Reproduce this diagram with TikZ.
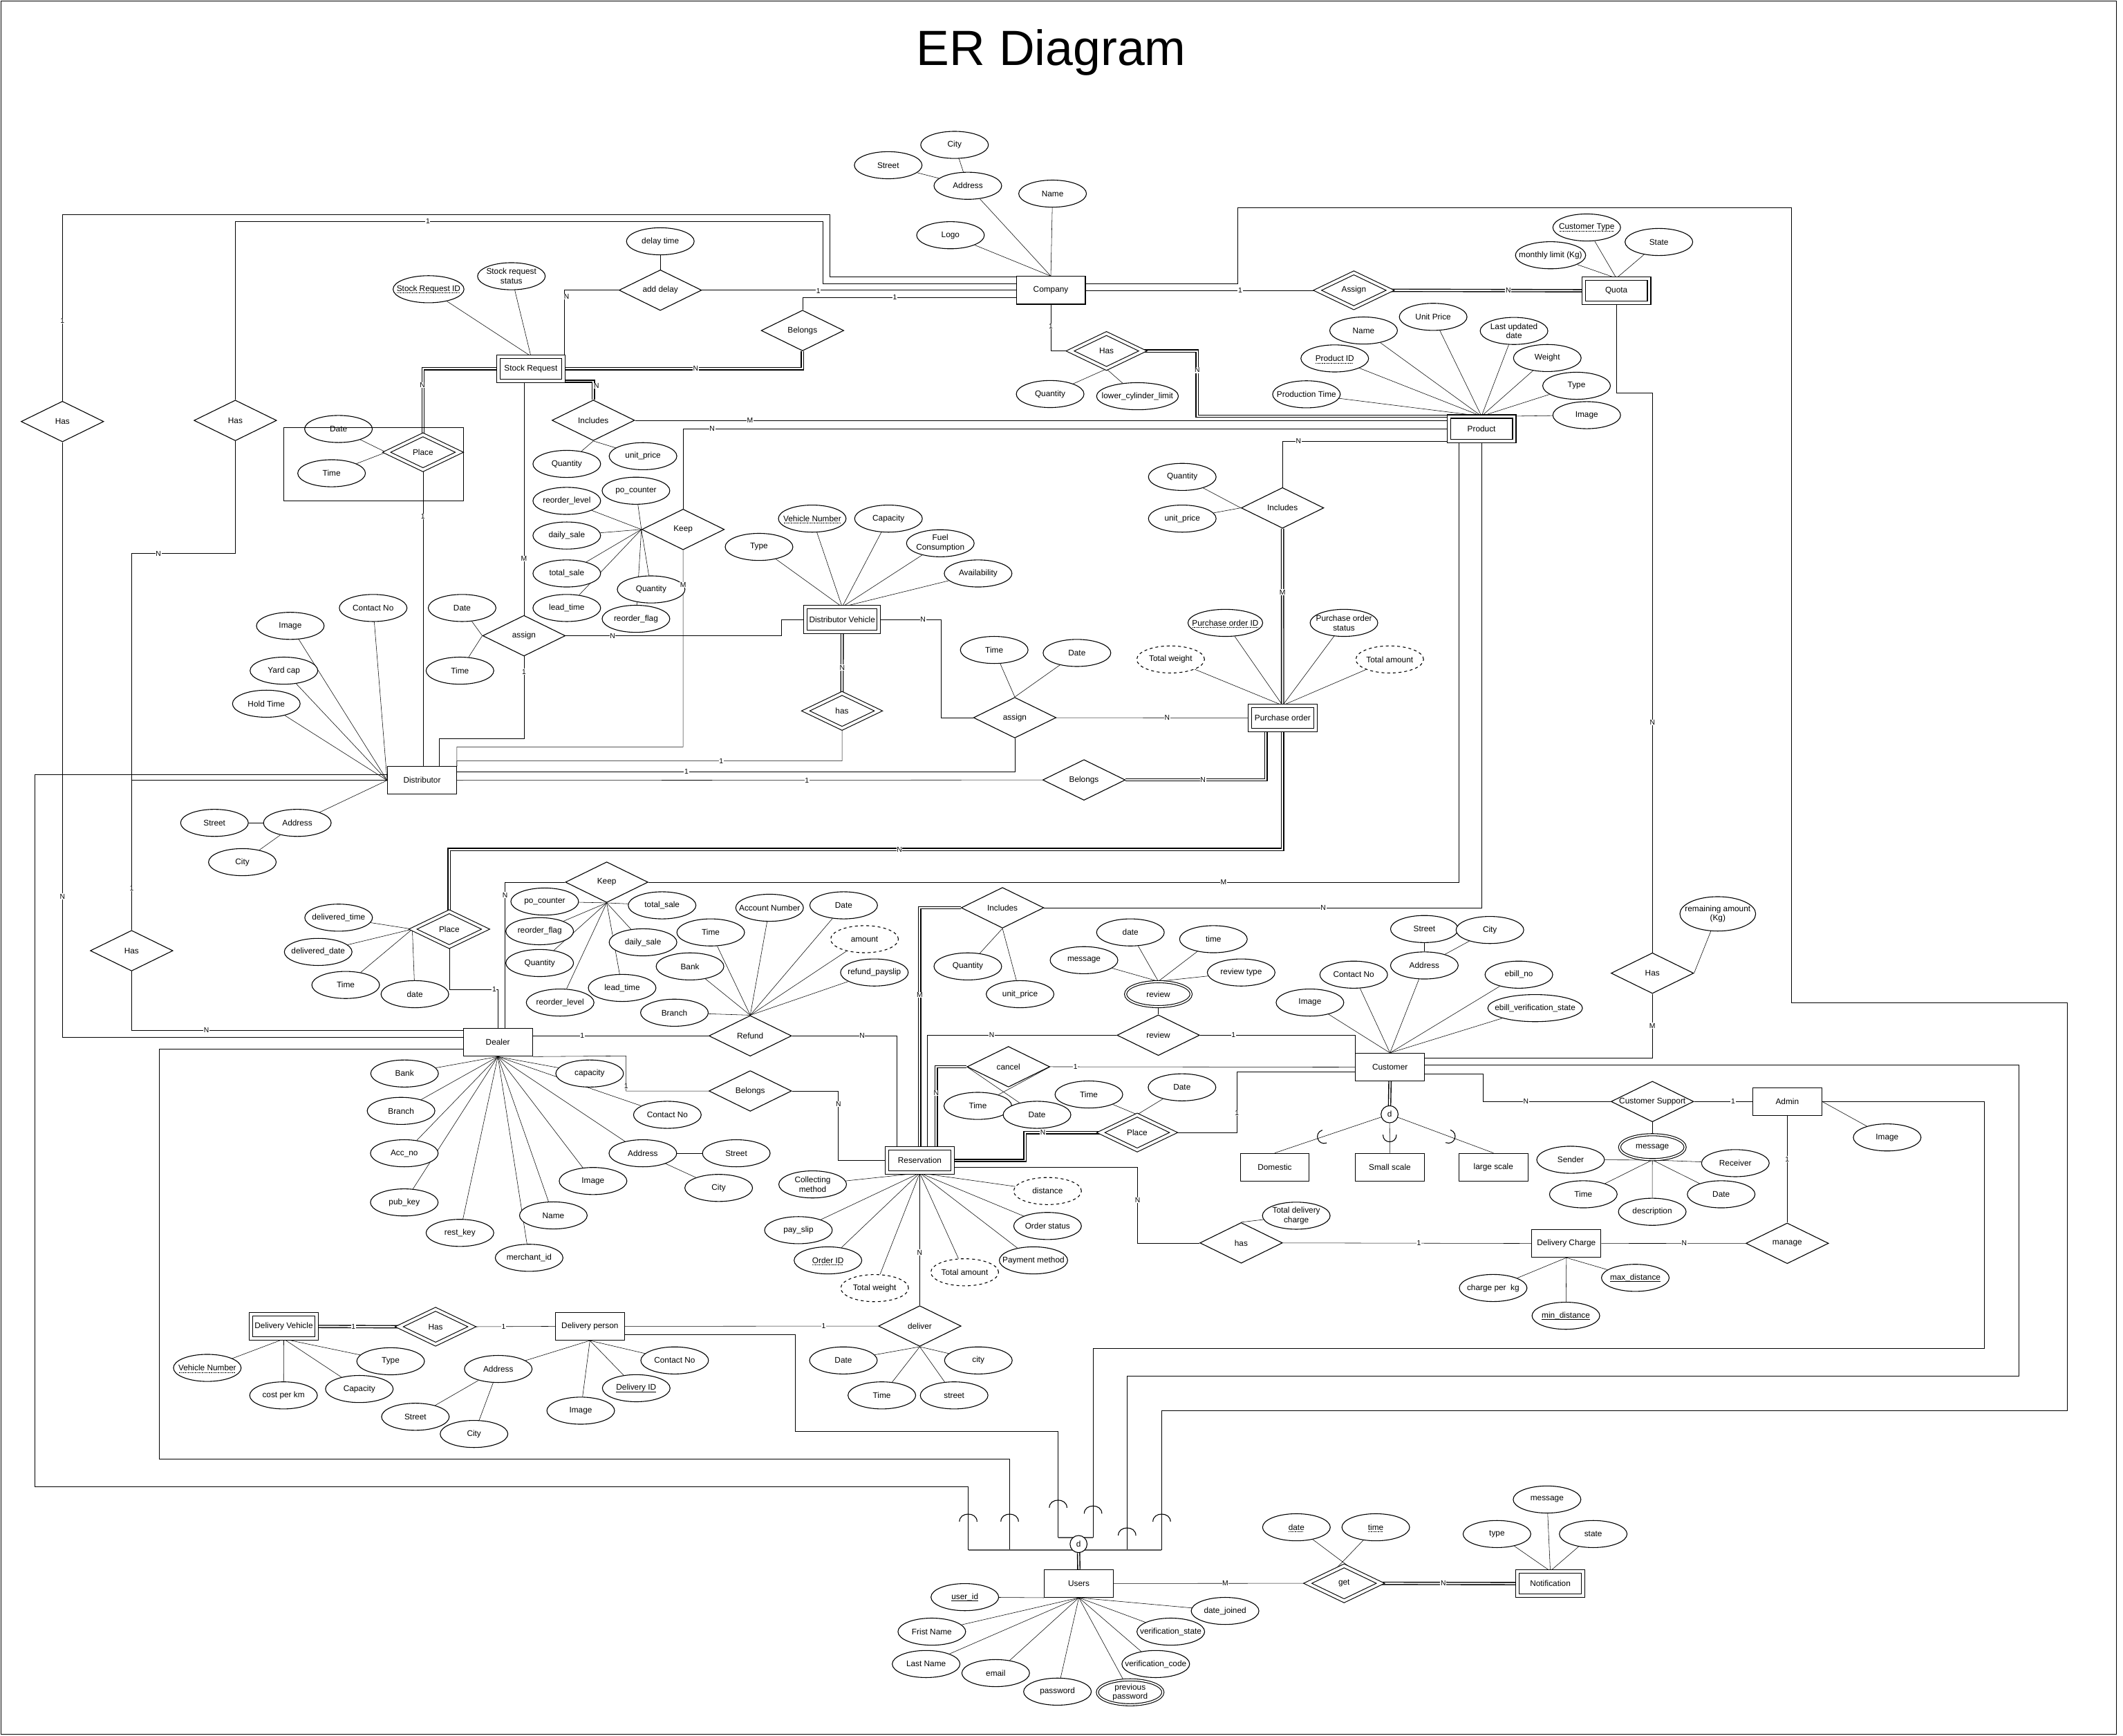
\documentclass[tikz,border=0pt]{standalone}
\usepackage{fontspec}
\setmainfont{Liberation Sans}
\usetikzlibrary{shapes.geometric,calc}
\pgfdeclarelayer{bg}
\pgfsetlayers{bg,main}
\newcommand{\isaarc}[2]{\draw (#1-6.5,#2+3) .. controls (#1-6.5,#2-4.5) and (#1+6.5,#2-4.5) .. (#1+6.5,#2+3);}
\newcommand{\dotul}[1]{\setbox0=\hbox{#1}\leavevmode\rlap{\smash{\raisebox{-2pt}{\hbox to\wd0{\leaders\hbox to 1.2pt{\hss\vrule width 0.5pt height 0.5pt\hss}\hfill}}}}\box0}
\newcommand{\solul}[1]{\setbox0=\hbox{#1}\leavevmode\rlap{\smash{\raisebox{-2pt}{\hbox to\wd0{\leaders\vrule height 0.5pt\hfill}}}}\box0}
\begin{document}
\begin{tikzpicture}[x=0.05cm, y=-0.05cm, line width=0.8pt,
 every node/.style={font=\fontsize{8.6}{10}\selectfont},
 ent/.style={draw, rectangle, fill=white, minimum width=2.55cm, minimum height=1.025cm, inner sep=1pt},
 went/.style={ent, double, double distance=0.1cm, minimum width=2.42cm, minimum height=0.9cm},
 rel/.style={draw, diamond, aspect=2, fill=white, minimum width=3.05cm, minimum height=1.5cm, inner sep=0pt},
 wrel/.style={rel, double, double distance=0.1cm, minimum width=2.7cm, minimum height=1.3cm},
 attr/.style={draw, ellipse, fill=white, minimum width=2.5cm, minimum height=1cm, inner xsep=-0.25cm, inner ysep=0pt, align=center},
 dattr/.style={attr, dashed},
 mattr/.style={attr, double, double distance=0.05cm, minimum width=2.42cm, minimum height=0.92cm},
 lbl/.style={fill=white, inner sep=0.5pt, font=\fontsize{7.5}{8}\selectfont},
 dbl/.style={line width=1pt, double, double distance=0.05cm},
 isa/.style={draw, circle, fill=white, minimum size=0.63cm, inner sep=0pt}]
\useasboundingbox (0,0) rectangle (1568,1282);
\draw (0.7,0.7) rectangle (1563,1281);
\node[font=\fontsize{52}{60}\selectfont, anchor=base] (title) at (776.5,48) {ER Diagram};

% ---------- entities ----------
\node[ent] (company) at (776.1,214.4) {Company};
\node[ent] (distributor) at (311.7,576.3) {Distributor};
\node[ent] (dealer) at (367.7,769.8) {Dealer};
\node[ent] (customer) at (1026.6,788.1) {Customer};
\node[ent] (admin) at (1320,813.5) {Admin};
\node[ent] (dcharge) at (1156.9,918.3) {Delivery Charge};
\node[ent] (dperson) at (435.7,979.5) {Delivery person};
\node[ent] (users) at (796.8,1169.4) {Users};
\node[ent] (domestic) at (941.5,862) {Domestic};
\node[ent] (smallscale) at (1026.5,862) {Small scale};
\node[ent] (largescale) at (1103,862) {large scale};

\node[went] (quota) at (1193.8,214.7) {Quota};
\node[went] (product) at (1094.2,316.6) {Product};
\node[went] (stockreq) at (392.1,272.3) {Stock Request};
\node[went, minimum width=2.7cm] (dvehicle) at (622,457.5) {Distributor Vehicle};
\node[went] (porder) at (947.3,530.2) {Purchase order};
\node[went] (reservation) at (679.3,857) {Reservation};
\node[went] (delvehicle) at (209.6,979.6) {Delivery Vehicle};
\node[went] (notification) at (1145,1169.5) {Notification};

% ---------- relationships ----------
\node[rel] (has1) at (46.1,311.3) {Has};
\node[rel] (has2) at (173.8,310.5) {Has};
\node[rel] (adddelay) at (487.7,214.3) {add delay};
\node[rel] (belongs1) at (592.7,244.1) {Belongs};
\node[rel] (includes1) at (438.2,310.4) {Includes};
\node[rel] (keep1) at (504.5,391) {Keep};
\node[rel] (assign1) at (387,469.5) {assign};
\node[rel] (assign2) at (749.5,530) {assign};
\node[rel] (includes2) at (947.2,375.1) {Includes};
\node[rel] (belongs2) at (800.6,576) {Belongs};
\node[rel] (has3) at (97.2,702.1) {Has};
\node[rel] (keep2) at (448.1,651.5) {Keep};
\node[rel] (refund) at (554.1,765) {Refund};
\node[rel] (belongs3) at (554.1,805.7) {Belongs};
\node[rel] (includes3) at (740.4,670.4) {Includes};
\node[rel] (cancel) at (744.8,787.8) {cancel};
\node[rel] (review) at (855.5,764.5) {review};
\node[rel] (hasq) at (1220.4,718.7) {Has};
\node[rel] (csupport) at (1220.4,813.5) {Customer Support};
\node[rel] (hasd) at (916.7,917.9) {has};
\node[rel] (manage) at (1320,918.2) {manage};
\node[rel] (deliver) at (679.3,979.3) {deliver};

\node[wrel] (assignq) at (999.9,214.4) {Assign};
\node[wrel] (hasp) at (817.2,259.2) {Has};
\node[wrel] (place1) at (312.4,334) {Place};
\node[wrel] (hasdv) at (621.9,525) {has};
\node[wrel] (place2) at (331.8,686.2) {Place};
\node[wrel] (place3) at (839.9,836.4) {Place};
\node[wrel] (hasdel) at (321.7,979.8) {Has};
\node[wrel] (get) at (992.7,1169.3) {get};

\node[isa] (dcirc1) at (1026.3,822.9) {d};
\node[isa] (dcirc2) at (796.6,1140.3) {d};

% ---------- attributes ----------
\node[attr] (caddr) at (714.8,137.2) {Address};
\node[attr] (ccity) at (705,107) {City};
\node[attr] (cstreet) at (656,122) {Street};
\node[attr] (clogo) at (702,173.7) {Logo};
\node[attr] (cname) at (777.4,143) {Name};

\node[attr] (qctype) at (1171.9,168) {\dotul{Customer Type}};
\node[attr] (qmonthly) at (1145.2,188.5) {monthly limit (Kg)};
\node[attr] (qstate) at (1225.2,178.7) {State};

\node[attr] (hpqty) at (775.6,291) {Quantity};
\node[attr] (hplcl) at (840.1,292.6) {lower\_cylinder\_limit};

\node[attr] (pname) at (1007.1,244.1) {Name};
\node[attr] (puprice) at (1058.5,234) {Unit Price};
\node[attr] (plast) at (1118.2,244.4) {Last updated\\date};
\node[attr] (pid) at (985.8,264.7) {\dotul{Product ID}};
\node[attr] (pweight) at (1142.8,264.4) {Weight};
\node[attr] (pprod) at (964.9,291.2) {Production Time};
\node[attr] (ptype) at (1164.4,284.9) {Type};
\node[attr] (pimage) at (1171.9,306.6) {Image};

\node[attr] (adtime) at (487.7,178.2) {delay time};
\node[attr] (srid) at (316.5,213.6) {\dotul{Stock Request ID}};
\node[attr] (srstatus) at (377.7,204) {Stock request\\status};

\node[attr] (p1date) at (250,316.8) {Date};
\node[attr] (p1time) at (244.9,349.5) {Time};

\node[attr] (i1qty) at (418.6,342.6) {Quantity};
\node[attr] (i1up) at (474.9,336.9) {unit\_price};

\node[attr] (k1rl) at (418.6,369.9) {reorder\_level};
\node[attr] (k1po) at (469.7,362.4) {po\_counter};
\node[attr] (k1ds) at (418.6,395.5) {daily\_sale};
\node[attr] (k1ts) at (418.6,423.5) {total\_sale};
\node[attr] (k1qty) at (480.9,435.3) {Quantity};
\node[attr] (k1lt) at (418.6,449) {lead\_time};
\node[attr] (k1rf) at (469.7,457) {reorder\_flag};

\node[attr] (a1date) at (341.3,449) {Date};
\node[attr] (a1time) at (339.7,495.3) {Time};

\node[attr] (dimg) at (214.4,462.2) {Image};
\node[attr] (dcon) at (275.6,449) {Contact No};
\node[attr] (dyard) at (209.7,495.3) {Yard cap};
\node[attr] (dhold) at (196.7,519.7) {Hold Time};
\node[attr] (daddr) at (219.6,607.7) {Address};
\node[attr] (dstreet) at (158.4,607.7) {Street};
\node[attr] (dcity) at (179,636.7) {City};

\node[attr] (dvtype) at (560.6,403.9) {Type};
\node[attr] (dvnum) at (599.9,383) {\dotul{Vehicle Number}};
\node[attr] (dvcap) at (656.2,383) {Capacity};
\node[attr] (dvfuel) at (694.5,401.2) {Fuel\\Consumption};
\node[attr] (dvavail) at (722.4,423.5) {Availability};

\node[attr] (a2time) at (734.3,480) {Time};
\node[attr] (a2date) at (795.4,482.2) {Date};

\node[attr] (poid) at (905,460) {\dotul{Purchase order ID}};
\node[attr] (postatus) at (992.6,460) {Purchase order\\status};
\node[dattr] (potw) at (864.6,487) {Total weight};
\node[dattr] (pota) at (1026.4,487) {Total amount};

\node[attr] (i2qty) at (873.2,352.2) {Quantity};
\node[attr] (i2up) at (873.2,383) {unit\_price};

\node[attr] (p2dt) at (250.1,677.7) {delivered\_time};
\node[attr] (p2dd) at (235,703) {delivered\_date};
\node[attr] (p2time) at (255.3,727.4) {Time};
\node[attr] (p2date) at (306.4,734.2) {date};

\node[attr] (k2po) at (402.3,665.8) {po\_counter};
\node[attr] (k2ts) at (489,668.6) {total\_sale};
\node[attr] (k2rf) at (398.6,687.7) {reorder\_flag};
\node[attr] (k2ds) at (474.9,695.9) {daily\_sale};
\node[attr] (k2qty) at (398.6,711.2) {Quantity};
\node[attr] (k2lt) at (459.5,729.6) {lead\_time};
\node[attr] (k2rl) at (413.7,740.4) {reorder\_level};

\node[attr] (rftime) at (524.9,688.6) {Time};
\node[attr] (rfacc) at (568.4,670.4) {Account Number};
\node[attr] (rfdate) at (623.1,668.6) {Date};
\node[dattr] (rfamount) at (638.5,693.6) {amount};
\node[attr] (rfbank) at (509.6,713.7) {Bank};
\node[attr] (rfslip) at (645.8,718.2) {refund\_payslip};
\node[attr] (rfbranch) at (498.1,747.9) {Branch};

\node[attr] (debank) at (298.8,792.8) {Bank};
\node[attr] (decap) at (435.5,792.8) {capacity};
\node[attr] (debranch) at (296.2,820.4) {Branch};
\node[attr] (decon) at (492.9,823.3) {Contact No};
\node[attr] (deacc) at (298.6,851.7) {Acc\_no};
\node[attr] (deaddr) at (474.8,851.7) {Address};
\node[attr] (destreet) at (543.8,851.7) {Street};
\node[attr] (decity) at (530.8,877.3) {City};
\node[attr] (deimg) at (438,872.2) {Image};
\node[attr] (depub) at (298.6,888) {pub\_key};
\node[attr] (dename) at (408.7,897.6) {Name};
\node[attr] (derest) at (339.7,910.5) {rest\_key};
\node[attr] (demer) at (390.8,928.9) {merchant\_id};

\node[attr] (i3qty) at (714.8,713.7) {Quantity};
\node[attr] (i3up) at (753.4,734.2) {unit\_price};

\node[attr] (cltime) at (722.2,816.7) {Time};
\node[attr] (cldate) at (765.9,823.3) {Date};

\node[mattr] (revell) at (855.5,734.2) {review};
\node[attr] (rvdate) at (834.9,688.6) {date};
\node[attr] (rvtime) at (896.2,693.6) {time};
\node[attr] (rvmsg) at (800.6,709.1) {message};
\node[attr] (rvtype) at (916.7,718.2) {review type};

\node[attr] (p3time) at (804.2,808.3) {Time};
\node[attr] (p3date) at (873,803) {Date};

\node[attr] (cuimg) at (967.5,740.4) {Image};
\node[attr] (cucon) at (999.8,719.8) {Contact No};
\node[attr] (cuaddr) at (1052,713) {Address};
\node[attr] (custreet) at (1052,686.1) {Street};
\node[attr] (cucity) at (1100.4,686.8) {City};
\node[attr] (cuebill) at (1121.8,719.8) {ebill\_no};
\node[attr] (cuebv) at (1133.8,744.5) {ebill\_verification\_state};

\node[attr, minimum width=2.8cm, minimum height=1.27cm] (hqrem) at (1268.7,674.9) {remaining amount\\(Kg)};

\node[mattr] (csmsg) at (1220.4,847.2) {message};
\node[attr] (msender) at (1160,856.5) {Sender};
\node[attr] (mreceiver) at (1281.7,859) {Receiver};
\node[attr] (mtime) at (1169.4,882) {Time};
\node[attr] (mdesc) at (1220.3,894.9) {description};
\node[attr] (mdate) at (1271.2,882) {Date};

\node[attr] (adimg) at (1393.8,840) {Image};

\node[attr] (dccpk) at (1102.8,951.2) {charge per\ \ kg};
\node[attr] (dcmin) at (1156.5,971.7) {\solul{min\_distance}};
\node[attr] (dcmax) at (1207.8,943.7) {\solul{max\_distance}};

\node[attr] (hdtotal) at (957.4,897.8) {Total delivery\\charge};

\node[attr] (rcoll) at (600.2,874.7) {Collecting\\method};
\node[dattr] (rdist) at (773.7,879.6) {distance};
\node[attr] (rpay) at (589.7,908.5) {pay\_slip};
\node[attr] (rstatus) at (773.7,905.4) {Order status};
\node[attr] (roid) at (611.5,930.8) {\dotul{Order ID}};
\node[attr] (rpm) at (763.3,930.8) {Payment method};
\node[dattr] (rtw) at (646,951.3) {Total weight};
\node[dattr] (rta) at (712.5,939.6) {Total amount};

\node[attr] (dldate) at (622.9,1004.7) {Date};
\node[attr] (dlcity) at (722.6,1004.7) {city};
\node[attr] (dltime) at (651.3,1030.5) {Time};
\node[attr] (dlstreet) at (704.7,1030.5) {street};

\node[attr] (dvnum2) at (153.1,1010.2) {\dotul{Vehicle Number}};
\node[attr] (dvcost) at (209.4,1030.5) {cost per km};
\node[attr] (dvcap2) at (265.4,1025.8) {Capacity};
\node[attr] (dvtype2) at (288.5,1005.3) {Type};

\node[attr] (dpaddr) at (368,1011) {Address};
\node[attr] (dpstreet) at (306.8,1046.3) {Street};
\node[attr] (dpcity) at (350.1,1059) {City};
\node[attr] (dpimg) at (428.9,1041.8) {Image};
\node[attr] (dpid) at (469.9,1025.2) {\solul{Delivery ID}};
\node[attr] (dpcon) at (498.3,1004.7) {Contact No};

\node[attr] (uid) at (712.6,1179.5) {\solul{user\_id}};
\node[attr] (ufn) at (688.2,1205) {Frist Name};
\node[attr] (uln) at (684,1228.9) {Last Name};
\node[attr] (uemail) at (735.4,1235.6) {email};
\node[attr] (upass) at (781,1249.3) {password};
\node[mattr] (uprev) at (834.7,1249.8) {previous\\password};
\node[attr] (uvc) at (853.6,1228.9) {verification\_code};
\node[attr] (uvs) at (864.7,1205) {verification\_state};
\node[attr] (udj) at (904.8,1189.7) {date\_joined};

\node[attr] (gdate) at (957.5,1127.9) {\dotul{date}};
\node[attr] (gtime) at (1016.1,1127.9) {\dotul{time}};

\node[attr] (ntype) at (1105.6,1132.9) {type};
\node[attr] (nmsg) at (1142.6,1107.4) {message};
\node[attr] (nstate) at (1176.7,1132.9) {state};

% aggregation box around Place
\draw (209.7,315.7) rectangle (342.3,369.7);

% ---------- cardinality labels ----------
\node[lbl] (c1) at (46.1,237) {1};
\node[lbl] (c2) at (46.1,662) {N};
\node[lbl] (c3) at (316,163.5) {1};
\node[lbl] (c4) at (117,408.7) {N};
\node[lbl] (c5) at (97.2,656) {1};
\node[lbl] (c6) at (152.4,760.8) {N};
\node[lbl] (c7) at (604.4,215) {1};
\node[lbl] (c8) at (661,219.6) {1};
\node[lbl] (c9) at (418.5,219) {N};
\node[lbl] (c10) at (513.8,272.3) {N};
\node[lbl] (c11) at (440.5,285) {N};
\node[lbl] (c12) at (554,310.4) {M};
\node[lbl] (c13) at (526,316.6) {N};
\node[lbl] (c14) at (387,412.6) {M};
\node[lbl] (c15) at (504.5,432) {M};
\node[lbl] (c16) at (312,284.5) {N};
\node[lbl] (c17) at (312.4,381.4) {1};
\node[lbl] (c18) at (387,496) {1};
\node[lbl] (c19) at (452.4,469.5) {N};
\node[lbl] (c20) at (681.7,457.5) {N};
\node[lbl] (c21) at (622,493) {N};
\node[lbl] (c22) at (532.6,561.9) {1};
\node[lbl] (c23) at (507,569.8) {1};
\node[lbl] (c24) at (596,576.3) {1};
\node[lbl] (c25) at (888.5,576) {N};
\node[lbl] (c26) at (862,530) {N};
\node[lbl] (c27) at (947.2,437.4) {M};
\node[lbl] (c28) at (959,325.6) {N};
\node[lbl] (c29) at (776.1,241) {1};
\node[lbl] (c30) at (884.2,273.3) {N};
\node[lbl] (c31) at (916,214.4) {1};
\node[lbl] (c32) at (1114,214.6) {N};
\node[lbl] (c33) at (1220.4,533.6) {N};
\node[lbl] (c34) at (1220.4,757.5) {M};
\node[lbl] (c35) at (664.3,627.3) {N};
\node[lbl] (c36) at (365,730.8) {1};
\node[lbl] (c37) at (373,661) {N};
\node[lbl] (c38) at (903.7,651.5) {M};
\node[lbl] (c39) at (977.3,670.5) {N};
\node[lbl] (c40) at (679.3,734.7) {M};
\node[lbl] (c41) at (430,765) {1};
\node[lbl] (c42) at (636.7,765) {N};
\node[lbl] (c43) at (462.4,802) {1};
\node[lbl] (c44) at (619.2,815.5) {N};
\node[lbl] (c45) at (732.5,764.5) {N};
\node[lbl] (c46) at (911,764.5) {1};
\node[lbl] (c47) at (691.5,807.2) {N};
\node[lbl] (c48) at (794.3,787.8) {1};
\node[lbl] (c49) at (770.3,836.4) {N};
\node[lbl] (c50) at (913.6,822) {1};
\node[lbl] (c51) at (840.2,886.4) {N};
\node[lbl] (c52) at (1048,917.9) {1};
\node[lbl] (c53) at (1244,917.9) {N};
\node[lbl] (c54) at (1320,856) {1};
\node[lbl] (c55) at (1127,813.5) {N};
\node[lbl] (c56) at (1280,813.5) {1};
\node[lbl] (c57) at (679.3,925) {N};
\node[lbl] (c58) at (608.3,979.3) {1};
\node[lbl] (c59) at (261,979.6) {1};
\node[lbl] (c60) at (372,979.6) {1};
\node[lbl] (c61) at (905,1169.4) {M};
\node[lbl] (c62) at (1066,1169.4) {N};

% ---------- subset arcs ----------
\isaarc{715.1}{1120.8}
\isaarc{745.7}{1120.8}
\isaarc{781.5}{1110.5}
\isaarc{807.3}{1114.8}
\isaarc{832.4}{1131}
\isaarc{858}{1120.8}
\draw (979.85,844.06) .. controls (973.23,846.32) and (970.01,836.86) .. (976.63,834.6);
\draw (1021.4,838) .. controls (1021.4,845) and (1031.4,845) .. (1031.4,838);
\draw (1067.73,843.82) .. controls (1074.28,846.29) and (1077.8,836.93) .. (1071.25,834.46);

% ---------- connectors ----------
\begin{pgfonlayer}{bg}
% attributes
\foreach \a in {caddr,clogo,cname} \draw (\a) -- (company.north);
\draw (ccity) -- (caddr); \draw (cstreet) -- (caddr);
\foreach \a in {qctype,qmonthly,qstate} \draw (\a) -- (quota.north);
\foreach \a in {hpqty,hplcl} \draw (\a) -- (hasp.south);
\foreach \a in {pname,puprice,plast,pid,pweight,pprod,ptype} \draw (\a) -- (product.north);
\draw (product.north east) -- (pimage);
\draw (adtime) -- (adddelay);
\foreach \a in {srid,srstatus} \draw (\a) -- (stockreq.north);
\foreach \a in {p1date,p1time} \draw (\a) -- (place1.west);
\foreach \a in {i1qty,i1up} \draw (\a) -- (includes1.south);
\foreach \a in {k1rl,k1po,k1ds,k1ts,k1qty,k1lt,k1rf} \draw (\a) -- (keep1.west);
\foreach \a in {a1date,a1time} \draw (\a) -- (assign1.west);
\foreach \a in {dimg,dcon,dyard,dhold,daddr} \draw (\a) -- (distributor.west);
\draw (dstreet) -- (daddr); \draw (dcity) -- (daddr);
\foreach \a in {dvtype,dvnum,dvcap,dvfuel,dvavail} \draw (\a) -- (dvehicle.north);
\foreach \a in {a2time,a2date} \draw (\a) -- (assign2.north);
\foreach \a in {poid,postatus,potw,pota} \draw (\a) -- (porder.north);
\foreach \a in {i2qty,i2up} \draw (\a) -- (includes2.west);
\foreach \a in {p2dt,p2dd,p2time,p2date} \draw (\a) -- (place2.west);
\foreach \a in {k2po,k2ts,k2rf,k2ds,k2qty,k2lt,k2rl} \draw (\a) -- (keep2.south);
\foreach \a in {rftime,rfacc,rfdate,rfamount,rfbank,rfslip,rfbranch} \draw (\a) -- (refund.north);
\foreach \a in {debank,decap,debranch,decon,deacc,deaddr,deimg,depub,dename,derest,demer} \draw (\a) -- (dealer.south);
\draw (destreet) -- (deaddr); \draw (decity) -- (deaddr);
\foreach \a in {i3qty,i3up} \draw (\a) -- (includes3.south);
\draw (cancel.east) -- (cltime); \draw (cancel.west) -- (cldate);
\foreach \a in {rvdate,rvtime,rvmsg,rvtype} \draw (\a) -- (revell.north);
\draw (revell) -- (review);
\foreach \a in {p3time,p3date} \draw (\a) -- (place3.north);
\foreach \a in {cuimg,cucon,cuaddr,cuebill,cuebv} \draw (\a) -- (customer.north);
\draw (custreet) -- (cuaddr); \draw (cucity) -- (cuaddr);
\draw (hasq.east) -- (hqrem);
\draw (csupport) -- (csmsg);
\foreach \a in {msender,mreceiver,mtime,mdesc,mdate} \draw (\a) -- (csmsg.south);
\draw (admin.east) -- (adimg);
\foreach \a in {dccpk,dcmin,dcmax} \draw (\a) -- (dcharge.south);
\draw (hasd.north) -- (hdtotal);
\foreach \a in {rcoll,rdist,rpay,rstatus,roid,rpm,rtw,rta} \draw (\a) -- (reservation.south);
\foreach \a in {dldate,dlcity,dltime,dlstreet} \draw (\a) -- (deliver.south);
\foreach \a in {dvnum2,dvcost,dvcap2,dvtype2} \draw (\a) -- (delvehicle.south);
\foreach \a in {dpaddr,dpimg,dpid,dpcon} \draw (\a) -- (dperson.south);
\draw (dpstreet) -- (dpaddr); \draw (dpcity) -- (dpaddr);
\draw (uid) -- (users.south west);
\foreach \a in {ufn,uln,uemail,upass,uprev,uvc,uvs,udj} \draw (\a) -- (users.south);
\draw (gdate) -- ($(get.north)!0.25!(get.east)$);
\draw (gtime) -- ($(get.north)!0.25!(get.west)$);
\foreach \a in {ntype,nmsg,nstate} \draw (\a) -- (notification.north);

% relationships
\draw (has1.north) -- (46.1,158.4) -- (612.7,158.4) -- (612.7,204.4) -- (company.west |- 0,204.4);
\draw (has1.south) |- (dealer.west |- 0,766);
\draw (has2.north) -- (173.8,163.5) -- (607.6,163.5) -- (607.6,209.5) -- (company.west |- 0,209.5);
\draw (has2.south) -- (173.8,408.7) -- (97.2,408.7) -- (97.2,576.3) -- (distributor.west);
\draw (has3.north) -- (has3.north |- distributor.west);
\draw (has3.south) |- (dealer.west |- 0,760.8);
\draw (adddelay.east) -- (company.west |- 0,214.3);
\draw (adddelay.west) -| (stockreq.north east);
\draw (belongs1.north) |- (company.west |- 0,219.6);
\draw[dbl] (stockreq.east) -| (belongs1.south);
\draw[dbl] (stockreq.south east) -| (includes1.north);
\draw (includes1.east) -- (product.west |- 0,310.4);
\draw (keep1.north) |- (product.west);
\draw (keep1.south) |- (337.4,551.6) -- (distributor.north east);
\draw[dbl] (stockreq.west) -| (place1.north);
\draw (place1.south) -- (place1.south |- distributor.north);
\draw (assign1.north |- stockreq.south) -- (assign1.north);
\draw (assign1.south) |- (324.3,545.5) -- (distributor.north -| 324.3,0);
\draw (assign1.east) -- (577,469.5) |- (dvehicle.west);
\draw (dvehicle.east) -- (694.8,457.5) |- (assign2.west);
\draw[dbl] (dvehicle.south) -- (hasdv.north);
\draw (hasdv.south) |- (337.4,561.9) -- (distributor.north east);
\draw (assign2.south) |- (distributor.east |- 0,569.8);
\draw (distributor.east) -- (belongs2.west);
\draw[dbl] (porder.south -| 935,0) |- (belongs2.east);
\draw (assign2.east) -- (porder.west);
\draw[dbl] (includes2.south) -- (porder.north);
\draw (product.south west) -| (includes2.north);
\draw[dbl] (porder.south) |- (331.8,627.3) -- (place2.north);
\draw (company.east) -- (assignq.west);
\draw[dbl] (assignq.east) -- (quota.west);
\draw (company.south) |- (hasp.west);
\draw[dbl] (hasp.east) -- (884.2,259.2) |- (product.north west);
\draw (quota.south) |- (1220.4,290.2) -- (hasq.north);
\draw (hasq.south) |- (customer.east |- 0,781.4);
\draw (product.south -| 1077.7,0) |- (keep2.east);
\draw (product.south) |- (includes3.east);
\draw (keep2.west) -| (dealer.north -| 373,0);
\draw[dbl] (includes3.west) -- (679.3,670.4) -- (reservation.north);
\draw (place2.south) |- (dealer.north |- 0,730.8) -- (dealer.north);
\draw (dealer.east |- 0,765) -- (refund.west);
\draw (refund.east) -| (reservation.north -| 662.2,0);
\draw (dealer.south east) -- (462.4,779.8) |- (belongs3.west);
\draw (belongs3.east) -| (619.2,857) -- (reservation.west);
\draw (review.west) -| (reservation.north -| 684.6,0);
\draw (review.east) -| (customer.north west);
\draw[dbl] (cancel.west) -| (reservation.north -| 691.5,0);
\draw (cancel.east) -- (customer.west);
\draw[dbl] (place3.west) -| (757,857) -- (reservation.east);
\draw (place3.east) -| (913.6,791.6) -- (customer.west |- 0,791.6);
\draw (reservation.east |- 0,862) -| (840.2,917.9) -- (hasd.west);
\draw (hasd.east) -- (dcharge.west);
\draw (dcharge.east) -- (manage.west);
\draw (manage.north) -- (admin.south);
\draw (customer.east |- 0,793.2) -| (1095.2,813.5) -- (csupport.west);
\draw (csupport.east) -- (admin.west);
\draw (reservation.south) -- (deliver.north);
\draw (deliver.west) -- (dperson.east);
\draw[dbl] (delvehicle.east) -- (hasdel.west);
\draw (hasdel.east) -- (dperson.west);
\draw[dbl] (customer.south) -- (dcirc1.north);
\draw (dcirc1) -- (domestic.north);
\draw (dcirc1) -- (smallscale.north);
\draw (dcirc1) -- (largescale.north);
\draw (users.east) -- (get.west);
\draw[dbl] (get.east) -- (notification.west);
% specialisation of Users
\draw (distributor.west |- 0,572.1) -- (25.7,572.1) -- (25.7,1097.9) -- (715.1,1097.9) -- (715.1,1144.7);
\draw (dealer.west |- 0,774.8) -- (117.7,774.8) -- (117.7,1077.6) -- (745.7,1077.6) -- (745.7,1144.7);
\draw (dperson.east |- 0,985.7) -- (587.2,985.7) -- (587.2,1057) -- (781.5,1057) -- (781.5,1135.6);
\draw (admin.east) -- (1465.7,813.5) -- (1465.7,995.8) -- (807.3,995.8) -- (807.3,1135.6);
\draw (customer.east |- 0,786.3) -- (1491,786.3) -- (1491,1016.3) -- (832.4,1016.3) -- (832.4,1144.7);
\draw (company.east |- 0,209.5) -- (914.1,209.5) -- (914.1,153.4) -- (1322.8,153.4) -- (1322.8,740.4) -- (1526.8,740.4) -- (1526.8,1041.8) -- (858,1041.8) -- (858,1144.7);
\draw[black!65, line width=1.4pt] (715.1,1144.7) -- (858,1144.7);
\draw[black!65, line width=1.4pt] (781.5,1135.6) -- (807.3,1135.6);
\draw[dbl] (dcirc2.south) -- (users.north);
\end{pgfonlayer}
\end{tikzpicture}
\end{document}
